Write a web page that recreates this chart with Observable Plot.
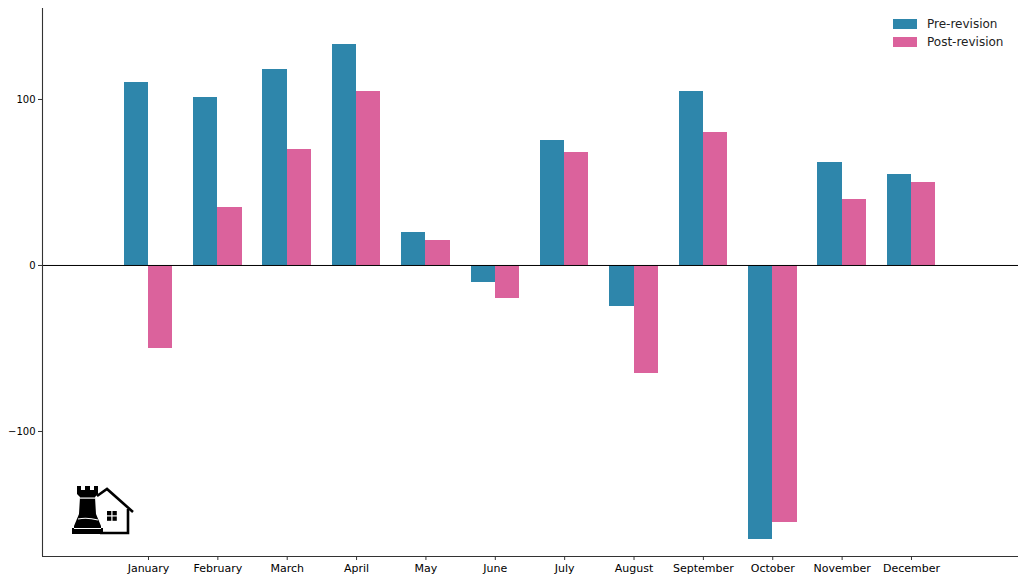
<!DOCTYPE html>
<html>
<head>
<meta charset="utf-8">
<script src="https://cdn.jsdelivr.net/npm/d3@7"></script>
<script src="https://cdn.jsdelivr.net/npm/@observablehq/plot@0.6"></script>
<style>
  html, body { margin: 0; padding: 0; background: #fff; }
  #wrap { position: relative; width: 1024px; height: 582px; font-family: "DejaVu Sans", sans-serif; }
  #legend { position: absolute; left: 893px; top: 15px; font-size: 12px; color: #222; }
  #legend .row { display: flex; align-items: center; height: 18px; }
  #legend .sw { width: 24px; height: 10px; margin-right: 10px; }
  #logo { position: absolute; left: 70px; top: 484px; }
</style>
</head>
<body>
<div id="wrap">
  <div id="chart"></div>
  <div id="legend"></div>
  <svg id="logo" width="68" height="54" viewBox="0 0 68 54">
    <!-- house -->
    <path d="M27 12 L37 5 L63 28" fill="none" stroke="#000" stroke-width="2.6"/>
    <path d="M58 25 L58 49 L30 49" fill="none" stroke="#000" stroke-width="2.6"/>
    <rect x="37" y="27" width="4.3" height="4.3" fill="#000"/>
    <rect x="42.5" y="27" width="4.3" height="4.3" fill="#000"/>
    <rect x="37" y="32.5" width="4.3" height="4.3" fill="#000"/>
    <rect x="42.5" y="32.5" width="4.3" height="4.3" fill="#000"/>
    <!-- rook -->
    <path d="M7 2 H11 V6 H15 V2 H20 V6 H24 V2 H28 V10 L25 13 L26 30 L31 42 V44 H33 V50 H2 V44 H4 V42 L9 30 L10 13 L7 10 Z" fill="#000"/>
    <rect x="10" y="13.5" width="15" height="1.2" fill="#fff"/>
    <path d="M8 35 Q17 33 28 36" fill="none" stroke="#fff" stroke-width="1.1"/>
    <rect x="4" y="44" width="27" height="1" fill="#fff"/>
  </svg>
</div>
<script>
const months = ["January","February","March","April","May","June","July","August","September","October","November","December"];
const preRevision  = [110, 101, 118, 133, 20, -10, 75, -25, 105, -165, 62, 55];
const postRevision = [-50,  35,  70, 105, 15, -20, 68, -65,  80, -155, 40, 50];
const seriesNames = ["Pre-revision", "Post-revision"];
const seriesColors = ["#2E86AB", "#DB629C"];
const yTicks = [-100, 0, 100];

const rows = months.map((m, i) => ({i, month: m, pre: preRevision[i], post: postRevision[i]}));
const barW = 0.35;
const xDomain = [-1.528, 12.543];
const yDomain = [-175.3, 154.8];

const chart = Plot.plot({
  width: 1024,
  height: 582,
  marginLeft: 42,
  marginRight: 6,
  marginTop: 8,
  marginBottom: 26,
  style: {fontFamily: "DejaVu Sans, sans-serif", background: "#fff", color: "#000"},
  x: {type: "linear", domain: xDomain},
  y: {domain: yDomain},
  marks: [
    Plot.rect(rows, {x1: d => d.i - barW, x2: d => d.i, y1: 0, y2: "pre", fill: seriesColors[0], shapeRendering: "crispEdges"}),
    Plot.rect(rows, {x1: d => d.i, x2: d => d.i + barW, y1: 0, y2: "post", fill: seriesColors[1], shapeRendering: "crispEdges"}),
    Plot.ruleY([0], {stroke: "#000", strokeWidth: 1}),
    Plot.ruleX([xDomain[0]], {stroke: "#333", strokeWidth: 1.1}),
    Plot.ruleY([yDomain[0]], {stroke: "#333", strokeWidth: 1.1}),
    Plot.axisY({ticks: yTicks, tickSize: 4, tickPadding: 3, fontSize: 10, label: null, stroke: "#333"}),
    Plot.axisX({ticks: d3.range(12), tickFormat: i => months[i], tickSize: 4, tickPadding: 4, fontSize: 11, label: null, stroke: "#333"})
  ]
});
document.getElementById("chart").appendChild(chart);

const legend = document.getElementById("legend");
seriesNames.forEach((n, k) => {
  const row = document.createElement("div");
  row.className = "row";
  row.innerHTML = `<div class="sw" style="background:${seriesColors[k]}"></div><span>${n}</span>`;
  legend.appendChild(row);
});
</script>
</body>
</html>
